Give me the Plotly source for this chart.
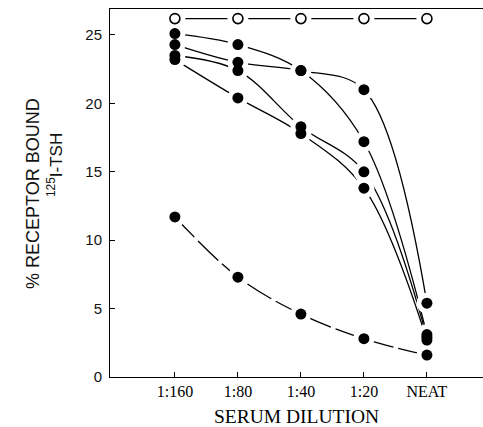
import plotly.graph_objects as go

categories = ["1:160", "1:80", "1:40", "1:20", "NEAT"]
x_pos = [0, 1, 2, 3, 4]

open_series = [26.2, 26.2, 26.2, 26.2, 26.2]
series_a = [25.1, 24.3, 22.4, 17.2, 3.1]
series_b = [24.3, 23.0, 22.4, 21.0, 5.4]
series_c = [23.5, 22.4, 18.3, 15.0, 2.9]
series_d = [23.2, 20.4, 17.8, 13.8, 2.7]
series_e = [11.7, 7.3, 4.6, 2.8, 1.6]

y_ticks = [0, 5, 10, 15, 20, 25]

filled = [series_a, series_b, series_c, series_d, series_e]

fig = go.Figure()

# lines
fig.add_trace(go.Scatter(x=x_pos, y=open_series, mode="lines",
                         line=dict(color="black", width=1.1), hoverinfo="skip"))
for i, s in enumerate(filled):
    fig.add_trace(go.Scatter(
        x=x_pos, y=s, mode="lines",
        line=dict(color="black", width=1.3, shape="spline", smoothing=1.0,
                  dash="28px,5px" if i == 4 else "solid"),
        hoverinfo="skip"))

# white halos to create gaps around markers
for s in [open_series] + filled:
    fig.add_trace(go.Scatter(x=x_pos, y=s, mode="markers",
                             marker=dict(color="white", size=21, line=dict(width=0)),
                             hoverinfo="skip"))

# markers
fig.add_trace(go.Scatter(x=x_pos, y=open_series, mode="markers",
                         marker=dict(color="white", size=10,
                                     line=dict(color="black", width=1.6))))
for s in filled:
    fig.add_trace(go.Scatter(x=x_pos, y=s, mode="markers",
                             marker=dict(color="black", size=11, line=dict(width=0))))

W0, W1 = 110, 483
H0, H1 = 9, 377

def px_x(p):
    return (p - W0) / (W1 - W0)

def px_y(p):
    return (H1 - p) / (H1 - H0)

fig.update_layout(
    width=483, height=427,
    margin=dict(l=110, r=0, t=9, b=50),
    paper_bgcolor="white", plot_bgcolor="white",
    showlegend=False,
    xaxis=dict(range=[-1.03, 4.89], tickvals=x_pos, ticktext=categories,
               ticks="inside", ticklen=5, tickcolor="black", tickwidth=1,
               showline=True, linecolor="black", linewidth=1, mirror=True,
               showgrid=False, zeroline=False,
               tickfont=dict(family="Liberation Serif", size=16, color="black"),
               title=dict(text="SERUM DILUTION", standoff=12,
                          font=dict(family="Liberation Serif", size=19.5, color="black"))),
    yaxis=dict(range=[0, 26.9], tickvals=y_ticks,
               ticks="inside", ticklen=5, tickcolor="black", tickwidth=1,
               showline=True, linecolor="black", linewidth=1,
               showgrid=False, zeroline=False, ticklabelstandoff=4,
               tickfont=dict(family="Liberation Sans", size=15, color="#111")),
    annotations=[
        dict(text="% RECEPTOR BOUND", xref="paper", yref="paper",
             x=px_x(33), y=px_y(194), showarrow=False, textangle=-90,
             xanchor="center", yanchor="middle",
             font=dict(family="Liberation Sans", size=18, color="#111")),
        dict(text="<sup>125</sup>I-TSH", xref="paper", yref="paper",
             x=px_x(55), y=px_y(165), showarrow=False, textangle=-90,
             xanchor="center", yanchor="middle",
             font=dict(family="Liberation Sans", size=17, color="#111")),
    ],
)

fig.write_html("out.html")
